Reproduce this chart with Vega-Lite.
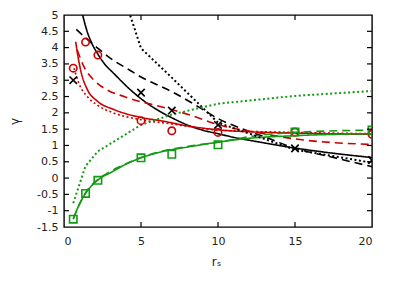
{
  "$schema": "https://vega.github.io/schema/vega-lite/v6.json",
  "autosize": "none",
  "width": 308,
  "height": 212,
  "padding": {"left": 64, "top": 15, "right": 23, "bottom": 59},
  "background": "white",
  "config": {
    "view": {"stroke": "black", "strokeWidth": 1.4},
    "font": "DejaVu Sans",
    "axis": {"grid": false, "domain": false, "ticks": false, "tickSize": 0, "labelOverlap": false, "labelFont": "DejaVu Sans", "labelFontSize": 11, "labelColor": "#222", "titleFont": "DejaVu Sans", "titleFontWeight": "normal", "titleFontSize": 12, "titleColor": "#222", "labelExpr": "'' + datum.value"}
  },
  "datasets": {
    "curves": [
      {"group": "a", "style": "solid", "x": 1.21, "y": 5.0},
      {"group": "a", "style": "solid", "x": 1.5, "y": 4.5},
      {"group": "a", "style": "solid", "x": 1.77, "y": 4.17},
      {"group": "a", "style": "solid", "x": 2.2, "y": 3.8},
      {"group": "a", "style": "solid", "x": 2.6, "y": 3.52},
      {"group": "a", "style": "solid", "x": 3.25, "y": 3.2},
      {"group": "a", "style": "solid", "x": 4.33, "y": 2.7},
      {"group": "a", "style": "solid", "x": 5.41, "y": 2.29},
      {"group": "a", "style": "solid", "x": 6.28, "y": 2.03},
      {"group": "a", "style": "solid", "x": 7.0, "y": 1.85},
      {"group": "a", "style": "solid", "x": 8.0, "y": 1.63},
      {"group": "a", "style": "solid", "x": 9.0, "y": 1.47},
      {"group": "a", "style": "solid", "x": 10.0, "y": 1.36},
      {"group": "a", "style": "solid", "x": 11.0, "y": 1.25},
      {"group": "a", "style": "solid", "x": 12.5, "y": 1.12},
      {"group": "a", "style": "solid", "x": 15.0, "y": 0.92},
      {"group": "a", "style": "solid", "x": 17.5, "y": 0.76},
      {"group": "a", "style": "solid", "x": 20.0, "y": 0.63},

      {"group": "a", "style": "dashed", "x": 0.8, "y": 4.56},
      {"group": "a", "style": "dashed", "x": 1.4, "y": 4.3},
      {"group": "a", "style": "dashed", "x": 2.2, "y": 3.98},
      {"group": "a", "style": "dashed", "x": 3.0, "y": 3.68},
      {"group": "a", "style": "dashed", "x": 4.3, "y": 3.3},
      {"group": "a", "style": "dashed", "x": 5.0, "y": 3.1},
      {"group": "a", "style": "dashed", "x": 6.0, "y": 2.87},
      {"group": "a", "style": "dashed", "x": 7.0, "y": 2.65},
      {"group": "a", "style": "dashed", "x": 8.5, "y": 2.25},
      {"group": "a", "style": "dashed", "x": 10.1, "y": 1.8},
      {"group": "a", "style": "dashed", "x": 11.5, "y": 1.52},
      {"group": "a", "style": "dashed", "x": 13.05, "y": 1.26},
      {"group": "a", "style": "dashed", "x": 14.7, "y": 0.96},
      {"group": "a", "style": "dashed", "x": 17.5, "y": 0.63},
      {"group": "a", "style": "dashed", "x": 20.0, "y": 0.35},

      {"group": "a", "style": "dotted", "x": 2.2, "y": 8.0},
      {"group": "a", "style": "dotted", "x": 5.0, "y": 3.98},
      {"group": "a", "style": "dotted", "x": 7.0, "y": 3.08},
      {"group": "a", "style": "dotted", "x": 10.0, "y": 1.7},
      {"group": "a", "style": "dotted", "x": 15.0, "y": 0.87},
      {"group": "a", "style": "dotted", "x": 20.0, "y": 0.47},

      {"group": "b", "style": "solid", "x": 0.76, "y": 4.18},
      {"group": "b", "style": "solid", "x": 0.9, "y": 3.75},
      {"group": "b", "style": "solid", "x": 1.08, "y": 3.31},
      {"group": "b", "style": "solid", "x": 1.51, "y": 2.72},
      {"group": "b", "style": "solid", "x": 2.16, "y": 2.36},
      {"group": "b", "style": "solid", "x": 3.25, "y": 2.1},
      {"group": "b", "style": "solid", "x": 5.0, "y": 1.86},
      {"group": "b", "style": "solid", "x": 6.5, "y": 1.74},
      {"group": "b", "style": "solid", "x": 8.0, "y": 1.6},
      {"group": "b", "style": "solid", "x": 10.0, "y": 1.48},
      {"group": "b", "style": "solid", "x": 12.5, "y": 1.41},
      {"group": "b", "style": "solid", "x": 15.0, "y": 1.38},
      {"group": "b", "style": "solid", "x": 20.0, "y": 1.34},

      {"group": "b", "style": "dashed", "x": 0.86, "y": 3.93},
      {"group": "b", "style": "dashed", "x": 1.3, "y": 3.41},
      {"group": "b", "style": "dashed", "x": 1.95, "y": 3.0},
      {"group": "b", "style": "dashed", "x": 2.81, "y": 2.7},
      {"group": "b", "style": "dashed", "x": 3.9, "y": 2.5},
      {"group": "b", "style": "dashed", "x": 4.98, "y": 2.34},
      {"group": "b", "style": "dashed", "x": 5.8, "y": 2.25},
      {"group": "b", "style": "dashed", "x": 8.4, "y": 1.9},
      {"group": "b", "style": "dashed", "x": 10.0, "y": 1.64},
      {"group": "b", "style": "dashed", "x": 12.5, "y": 1.4},
      {"group": "b", "style": "dashed", "x": 15.0, "y": 1.2},
      {"group": "b", "style": "dashed", "x": 20.0, "y": 1.03},

      {"group": "b", "style": "dotted", "x": 0.65, "y": 3.37},
      {"group": "b", "style": "dotted", "x": 0.97, "y": 2.9},
      {"group": "b", "style": "dotted", "x": 1.51, "y": 2.5},
      {"group": "b", "style": "dotted", "x": 2.16, "y": 2.24},
      {"group": "b", "style": "dotted", "x": 3.25, "y": 1.99},
      {"group": "b", "style": "dotted", "x": 5.0, "y": 1.79},
      {"group": "b", "style": "dotted", "x": 7.0, "y": 1.66},
      {"group": "b", "style": "dotted", "x": 10.0, "y": 1.47},
      {"group": "b", "style": "dotted", "x": 15.0, "y": 1.4},
      {"group": "b", "style": "dotted", "x": 20.0, "y": 1.36},

      {"group": "c", "style": "solid", "x": 0.6, "y": -1.26},
      {"group": "c", "style": "solid", "x": 1.0, "y": -0.8},
      {"group": "c", "style": "solid", "x": 1.4, "y": -0.47},
      {"group": "c", "style": "solid", "x": 2.2, "y": -0.06},
      {"group": "c", "style": "solid", "x": 3.12, "y": 0.19},
      {"group": "c", "style": "solid", "x": 4.0, "y": 0.42},
      {"group": "c", "style": "solid", "x": 5.0, "y": 0.62},
      {"group": "c", "style": "solid", "x": 6.36, "y": 0.81},
      {"group": "c", "style": "solid", "x": 8.0, "y": 0.95},
      {"group": "c", "style": "solid", "x": 10.0, "y": 1.1},
      {"group": "c", "style": "solid", "x": 11.6, "y": 1.2},
      {"group": "c", "style": "solid", "x": 15.0, "y": 1.3},
      {"group": "c", "style": "solid", "x": 20.0, "y": 1.36},

      {"group": "c", "style": "dashed", "x": 0.6, "y": -1.24},
      {"group": "c", "style": "dashed", "x": 1.4, "y": -0.45},
      {"group": "c", "style": "dashed", "x": 2.2, "y": -0.04},
      {"group": "c", "style": "dashed", "x": 3.0, "y": 0.2},
      {"group": "c", "style": "dashed", "x": 4.0, "y": 0.43},
      {"group": "c", "style": "dashed", "x": 5.0, "y": 0.63},
      {"group": "c", "style": "dashed", "x": 6.36, "y": 0.82},
      {"group": "c", "style": "dashed", "x": 8.0, "y": 0.97},
      {"group": "c", "style": "dashed", "x": 10.0, "y": 1.1},
      {"group": "c", "style": "dashed", "x": 12.5, "y": 1.3},
      {"group": "c", "style": "dashed", "x": 15.0, "y": 1.4},
      {"group": "c", "style": "dashed", "x": 20.0, "y": 1.47},

      {"group": "c", "style": "dotted", "x": 0.6, "y": -0.77},
      {"group": "c", "style": "dotted", "x": 1.4, "y": 0.37},
      {"group": "c", "style": "dotted", "x": 2.2, "y": 0.82},
      {"group": "c", "style": "dotted", "x": 5.0, "y": 1.63},
      {"group": "c", "style": "dotted", "x": 7.0, "y": 1.95},
      {"group": "c", "style": "dotted", "x": 10.0, "y": 2.28},
      {"group": "c", "style": "dotted", "x": 15.0, "y": 2.52},
      {"group": "c", "style": "dotted", "x": 20.0, "y": 2.67}
    ],
    "points": [
      {"group": "a", "x": 0.6, "y": 3.0},
      {"group": "a", "x": 5.0, "y": 2.62},
      {"group": "a", "x": 7.0, "y": 2.07},
      {"group": "a", "x": 10.0, "y": 1.63},
      {"group": "a", "x": 15.0, "y": 0.91},
      {"group": "a", "x": 20.0, "y": 0.55},
      {"group": "b", "x": 0.6, "y": 3.37},
      {"group": "b", "x": 1.4, "y": 4.17},
      {"group": "b", "x": 2.2, "y": 3.77},
      {"group": "b", "x": 5.0, "y": 1.76},
      {"group": "b", "x": 7.0, "y": 1.45},
      {"group": "b", "x": 10.0, "y": 1.4},
      {"group": "b", "x": 15.0, "y": 1.41},
      {"group": "b", "x": 20.0, "y": 1.34},
      {"group": "c", "x": 0.6, "y": -1.26},
      {"group": "c", "x": 1.4, "y": -0.47},
      {"group": "c", "x": 2.2, "y": -0.07},
      {"group": "c", "x": 5.0, "y": 0.62},
      {"group": "c", "x": 7.0, "y": 0.73},
      {"group": "c", "x": 10.0, "y": 1.02},
      {"group": "c", "x": 15.0, "y": 1.41},
      {"group": "c", "x": 20.0, "y": 1.47}
    ],
    "xticks": [{"v": 5}, {"v": 10}, {"v": 15}],
    "yticks": [{"v": -1}, {"v": -0.5}, {"v": 0}, {"v": 0.5}, {"v": 1}, {"v": 1.5}, {"v": 2}, {"v": 2.5}, {"v": 3}, {"v": 3.5}, {"v": 4}, {"v": 4.5}]
  },
  "resolve": {"axis": {"x": "independent", "y": "independent"}},
  "layer": [
    {
      "data": {"name": "curves"},
      "transform": [{"filter": "datum.style !== 'dotted' || datum.group === 'b'"}],
      "mark": {"type": "line", "interpolate": "monotone", "clip": true, "strokeWidth": 1.6},
      "encoding": {
        "x": {"field": "x", "type": "quantitative", "scale": {"domain": [0, 20], "nice": false},
          "axis": {"orient": "bottom", "values": [0, 5, 10, 15, 20], "labelPadding": 8, "title": "rₛ", "titleX": 152, "titleY": 38, "titleBaseline": "alphabetic"}},
        "y": {"field": "y", "type": "quantitative", "scale": {"domain": [-1.5, 5], "nice": false, "zero": false},
          "axis": {"orient": "left", "values": [-1.5, -1, -0.5, 0, 0.5, 1, 1.5, 2, 2.5, 3, 3.5, 4, 4.5, 5], "labelPadding": 6, "title": "γ", "titleX": -50, "titleY": 106, "titleAngle": -90, "titleBaseline": "middle", "titleAlign": "center"}},
        "color": {"field": "group", "type": "nominal", "scale": {"domain": ["a", "b", "c"], "range": ["#000000", "#cc0000", "#129a12"]}, "legend": null},
        "strokeDash": {"field": "style", "type": "nominal", "scale": {"domain": ["solid", "dashed", "dotted"], "range": [[1, 0], [8, 5], [2, 2.5]]}, "legend": null}
      }
    },
    {
      "data": {"name": "curves"},
      "transform": [{"filter": "datum.style === 'dotted' && datum.group !== 'b'"}],
      "mark": {"type": "line", "interpolate": "linear", "clip": true, "strokeWidth": 2},
      "encoding": {
        "x": {"field": "x", "type": "quantitative", "axis": null},
        "y": {"field": "y", "type": "quantitative", "axis": null},
        "color": {"field": "group", "type": "nominal", "legend": null},
        "strokeDash": {"field": "style", "type": "nominal", "legend": null}
      }
    },
    {
      "data": {"name": "points"},
      "mark": {"type": "point", "filled": false, "strokeWidth": 1.6, "size": 55, "opacity": 1, "clip": true},
      "encoding": {
        "x": {"field": "x", "type": "quantitative", "axis": null},
        "y": {"field": "y", "type": "quantitative", "axis": null},
        "color": {"field": "group", "type": "nominal", "legend": null},
        "shape": {"field": "group", "type": "nominal", "scale": {"domain": ["a", "b", "c"], "range": ["M-1,-1L1,1M-1,1L1,-1", "circle", "square"]}, "legend": null}
      }
    },
    {
      "data": {"name": "xticks"},
      "mark": {"type": "tick", "orient": "vertical", "size": 10, "thickness": 1.2, "color": "black", "opacity": 1, "clip": true},
      "encoding": {
        "x": {"field": "v", "type": "quantitative", "axis": null},
        "y": {"datum": -1.5, "type": "quantitative", "axis": null}
      }
    },
    {
      "data": {"name": "xticks"},
      "mark": {"type": "tick", "orient": "vertical", "size": 10, "thickness": 1.2, "color": "black", "opacity": 1, "clip": true},
      "encoding": {
        "x": {"field": "v", "type": "quantitative", "axis": null},
        "y": {"datum": 5, "type": "quantitative", "axis": null}
      }
    },
    {
      "data": {"name": "yticks"},
      "mark": {"type": "tick", "orient": "horizontal", "size": 10, "thickness": 1.2, "color": "black", "opacity": 1, "clip": true},
      "encoding": {
        "y": {"field": "v", "type": "quantitative", "axis": null},
        "x": {"datum": 0, "type": "quantitative", "axis": null}
      }
    },
    {
      "data": {"name": "yticks"},
      "mark": {"type": "tick", "orient": "horizontal", "size": 10, "thickness": 1.2, "color": "black", "opacity": 1, "clip": true},
      "encoding": {
        "y": {"field": "v", "type": "quantitative", "axis": null},
        "x": {"datum": 20, "type": "quantitative", "axis": null}
      }
    }
  ]
}
